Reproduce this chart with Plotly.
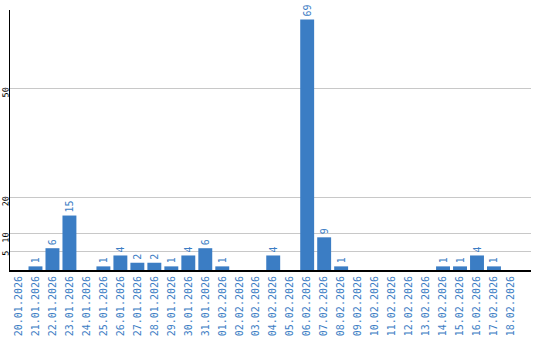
import plotly.graph_objects as go

dates = ["20.01.2026", "21.01.2026", "22.01.2026", "23.01.2026", "24.01.2026",
         "25.01.2026", "26.01.2026", "27.01.2026", "28.01.2026", "29.01.2026",
         "30.01.2026", "31.01.2026", "01.02.2026", "02.02.2026", "03.02.2026",
         "04.02.2026", "05.02.2026", "06.02.2026", "07.02.2026", "08.02.2026",
         "09.02.2026", "10.02.2026", "11.02.2026", "12.02.2026", "13.02.2026",
         "14.02.2026", "15.02.2026", "16.02.2026", "17.02.2026", "18.02.2026"]
counts = [0, 1, 6, 15, 0, 1, 4, 2, 2, 1, 4, 6, 1, 0, 0,
          4, 0, 69, 9, 1, 0, 0, 0, 0, 0, 1, 1, 4, 1, 0]
y_ticks = [5, 10, 20, 50]

BLUE = "#3b7dc4"
labels = [str(v) if v else "" for v in counts]

fig = go.Figure(go.Bar(
    x=list(range(len(dates))), y=counts, text=labels,
    textposition="outside", textangle=-90, cliponaxis=False,
    constraintext="none",
    textfont=dict(family="DejaVu Sans Mono", size=10, color=BLUE),
    marker=dict(color=BLUE, line=dict(width=0)),
    hoverinfo="skip",
))

fig.update_layout(
    width=540, height=340,
    margin=dict(l=10, r=9, t=10, b=70, autoexpand=False),
    paper_bgcolor="white", plot_bgcolor="white",
    bargap=0.18, showlegend=False,
    font=dict(family="DejaVu Sans Mono"),
)
fig.update_xaxes(
    range=[-0.5, 30.18], tickmode="array",
    tickvals=list(range(len(dates))), ticktext=dates,
    tickangle=-90, tickfont=dict(family="DejaVu Sans Mono", size=10, color=BLUE),
    showgrid=False, showline=True, linecolor="black", linewidth=2,
    ticks="", zeroline=False, automargin=False,
)
fig.update_yaxes(
    range=[0, 71.6], tickmode="array", tickvals=y_ticks,
    tickangle=-89.9, tickfont=dict(family="DejaVu Sans Mono", size=8.5, color="black"),
    showgrid=True, gridcolor="#c8c8c8", gridwidth=1,
    showline=True, linecolor="black", linewidth=1,
    ticks="", zeroline=False, ticklabelstandoff=3, automargin=False,
)

fig.write_html("out.html")
